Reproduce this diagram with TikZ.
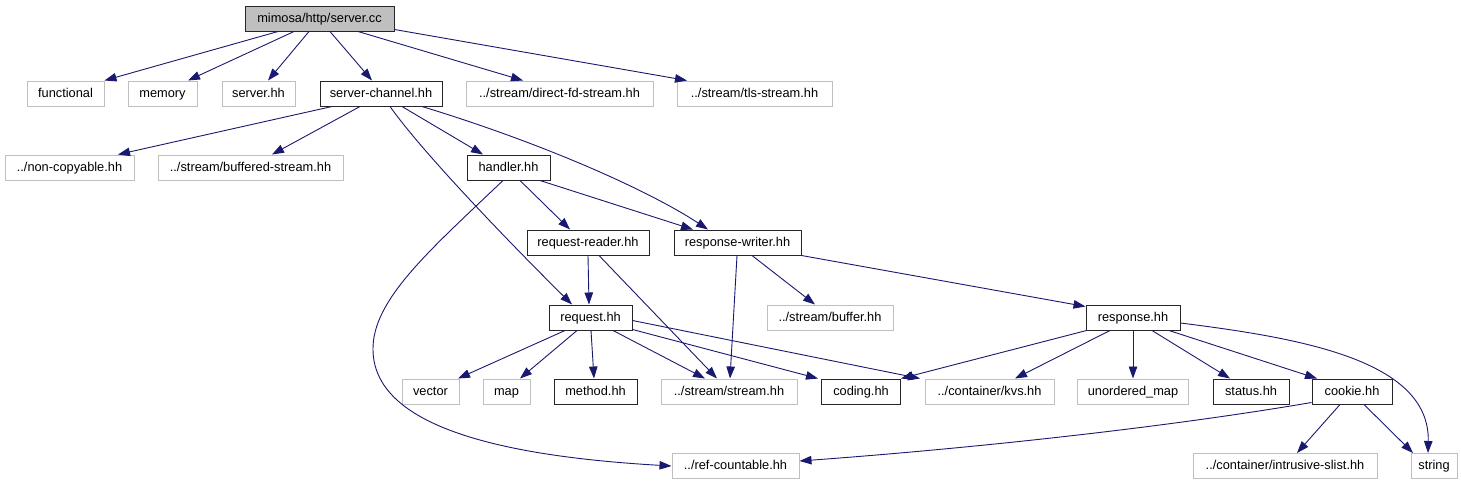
\documentclass[tikz,border=0pt]{standalone}
\usepackage{fontspec}
\setmainfont{Liberation Sans}
\usetikzlibrary{arrows.meta}
\definecolor{edgeblue}{HTML}{191970}
\definecolor{extgray}{HTML}{BFBFBF}
\tikzset{
  box/.style={draw, line width=1pt, inner sep=0pt, minimum height=25pt, text height=10pt, text depth=2.6pt, font=\fontsize{12.8}{14}\selectfont, anchor=center},
  extbox/.style={box, draw=extgray},
  docbox/.style={box, draw=black!85},
  rootbox/.style={box, draw=black!85, fill=extgray},
  edge/.style={draw=edgeblue, line width=0.9pt, -{Triangle[length=12pt,width=8.5pt]}, fill=none},
}
\begin{document}
\begin{tikzpicture}[x=1pt,y=-1pt]
\useasboundingbox[fill=white] (0,0) rectangle (1461,485);
% nodes
\node[rootbox, minimum width=149pt] (root) at (319.5,18.5) {mimosa/http/server.cc};
\node[extbox, minimum width=77pt] (functional) at (65.5,93.5) {functional};
\node[extbox, minimum width=69pt] (memory) at (162.5,93.5) {memory};
\node[extbox, minimum width=73pt] (serverhh) at (258.5,93.5) {server.hh};
\node[docbox, minimum width=122pt] (channel) at (381,93.5) {server-channel.hh};
\node[extbox, minimum width=187pt] (directfd) at (559.5,93.5) {../stream/direct-fd-stream.hh};
\node[extbox, minimum width=155pt] (tls) at (754.5,93.5) {../stream/tls-stream.hh};
\node[extbox, minimum width=129pt] (noncopy) at (69.5,167.5) {../non-copyable.hh};
\node[extbox, minimum width=185pt] (buffered) at (250.5,167.5) {../stream/buffered-stream.hh};
\node[docbox, minimum width=83pt] (handler) at (508.5,167.5) {handler.hh};
\node[docbox, minimum width=122pt] (reqreader) at (588,242.5) {request-reader.hh};
\node[docbox, minimum width=127pt] (respwriter) at (737.5,242.5) {response-writer.hh};
\node[docbox, minimum width=83pt] (request) at (590.5,317.5) {request.hh};
\node[extbox, minimum width=126pt] (buffer) at (830,317.5) {../stream/buffer.hh};
\node[docbox, minimum width=94pt] (response) at (1133,317.5) {response.hh};
\node[extbox, minimum width=57pt] (vector) at (430.5,391.5) {vector};
\node[extbox, minimum width=47pt] (map) at (506.5,391.5) {map};
\node[docbox, minimum width=83pt] (method) at (595.5,391.5) {method.hh};
\node[extbox, minimum width=136pt] (stream) at (729,391.5) {../stream/stream.hh};
\node[docbox, minimum width=79pt] (coding) at (861,391.5) {coding.hh};
\node[extbox, minimum width=129pt] (kvs) at (989.5,391.5) {../container/kvs.hh};
\node[extbox, minimum width=111pt] (umap) at (1133,391.5) {unordered\_map};
\node[docbox, minimum width=76pt] (status) at (1251,391.5) {status.hh};
\node[docbox, minimum width=80pt] (cookie) at (1352,391.5) {cookie.hh};
\node[extbox, minimum width=127pt] (refc) at (735.5,466) {../ref-countable.hh};
\node[extbox, minimum width=184pt] (slist) at (1285,466) {../container/intrusive-slist.hh};
\node[extbox, minimum width=46pt] (string) at (1434,466) {string};
% edges from root
\draw[edge] ([xshift=-41.5pt]root.south) -- ([xshift=39pt]functional.north);
\draw[edge] ([xshift=-25.5pt]root.south) -- ([xshift=25.5pt]memory.north);
\draw[edge] ([xshift=-10.5pt]root.south) -- ([xshift=9.5pt]serverhh.north);
\draw[edge] ([xshift=10.5pt]root.south) -- ([xshift=-9pt]channel.north);
\draw[edge] ([xshift=38.5pt]root.south) -- ([xshift=-36.5pt]directfd.north);
\draw[edge] ([yshift=2pt]root.south east) -- ([xshift=-67.5pt]tls.north);
% server-channel
\draw[edge] ([xshift=-49pt]channel.south) -- ([xshift=48.5pt]noncopy.north);
\draw[edge] ([xshift=-21pt]channel.south) -- ([xshift=21.5pt]buffered.north);
\draw[edge] ([xshift=21pt]channel.south) -- ([xshift=-25.5pt]handler.north);
\draw[edge] ([xshift=41pt]channel.south) .. controls (542,143) and (648,190) .. ([xshift=-29.5pt]respwriter.north);
\draw[edge] ([xshift=9pt]channel.south) .. controls (428,160) and (532,265) .. ([xshift=-18.5pt]request.north);
% handler
\draw[edge] ([xshift=11.5pt]handler.south) -- ([xshift=-18pt]reqreader.north);
\draw[edge] ([xshift=31.5pt]handler.south) -- ([xshift=-44.5pt]respwriter.north);
\draw[edge] ([xshift=-5.5pt]handler.south) .. controls (430,250) and (372,300) .. (373,350) .. controls (374,420) and (480,455) .. (refc.west);
% request-reader
\draw[edge] (reqreader.south) -- ([xshift=-1.5pt]request.north);
\draw[edge] ([xshift=11pt]reqreader.south) -- ([xshift=-12pt]stream.north);
% response-writer
\draw[edge] ([xshift=-0.5pt]respwriter.south) -- ([xshift=1pt]stream.north);
\draw[edge] ([xshift=14.5pt]respwriter.south) -- ([xshift=-15pt]buffer.north);
\draw[edge] (respwriter.south east) -- ([yshift=-2pt]response.north west);
% request
\draw[edge] ([xshift=-25.5pt]request.south) -- ([xshift=27.5pt]vector.north);
\draw[edge] ([xshift=-13.5pt]request.south) -- ([xshift=13.5pt]map.north);
\draw[edge] ([xshift=0.5pt]request.south) -- ([xshift=-1.5pt]method.north);
\draw[edge] ([xshift=22.5pt]request.south) -- ([xshift=-24pt]stream.north);
\draw[edge] ([yshift=1pt]request.south east) -- ([xshift=-3pt]coding.north west);
\draw[edge] ([yshift=-3pt]request.east) -- ([xshift=-69.5pt]kvs.north);
% response
\draw[edge] ([xshift=1pt]response.south west) -- (coding.north east);
\draw[edge] ([xshift=-23pt]response.south) -- ([xshift=25.5pt]kvs.north);
\draw[edge] (response.south) -- (umap.north);
\draw[edge] ([xshift=19pt]response.south) -- ([xshift=-21pt]status.north);
\draw[edge] ([xshift=36pt]response.south) -- ([xshift=-35pt]cookie.north);
\draw[edge] ([yshift=-5.5pt]response.east) .. controls (1300,338) and (1430,360) .. ([xshift=-6pt]string.north);
% cookie
\draw[edge] ([yshift=2pt]cookie.south west) .. controls (1150,430) and (950,450) .. ([yshift=5pt]refc.east);
\draw[edge] ([xshift=-12pt]cookie.south) -- ([xshift=12pt]slist.north);
\draw[edge] ([xshift=12pt]cookie.south) -- ([xshift=-21pt]string.north);
\end{tikzpicture}
\end{document}
